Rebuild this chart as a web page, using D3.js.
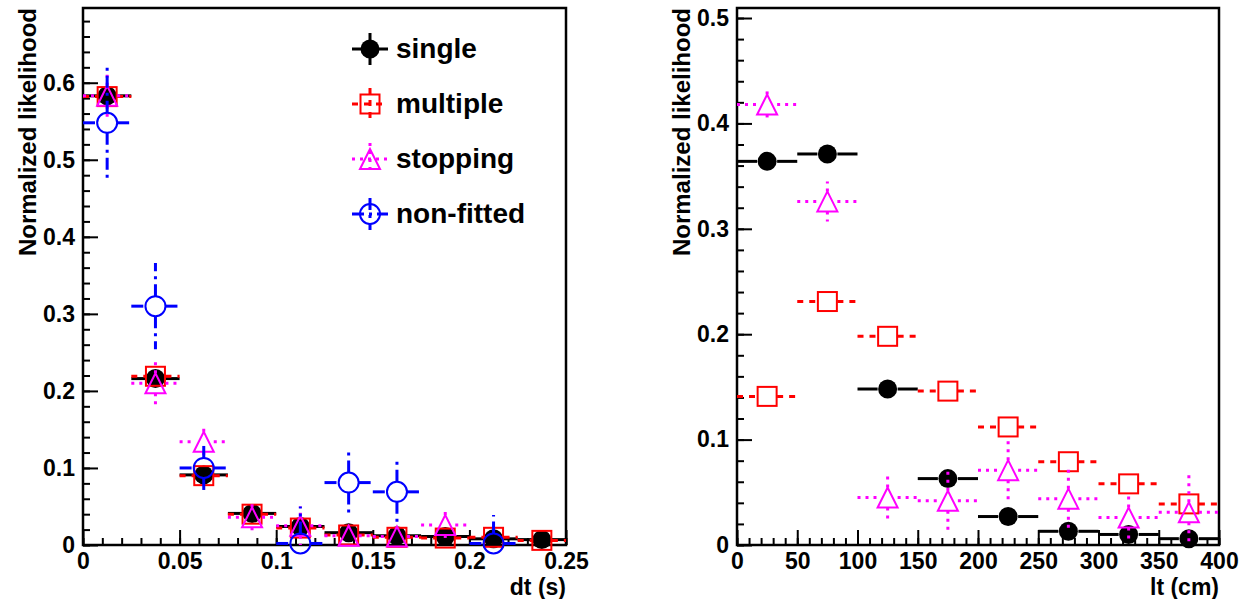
<!DOCTYPE html>
<html>
<head>
<meta charset="utf-8">
<script src="https://cdn.jsdelivr.net/npm/d3@7"></script>
<style>
  body { margin: 0; background: #fff; }
  text { font-family: "Liberation Sans", Arial, sans-serif; font-weight: bold; }
</style>
</head>
<body>
<svg width="1244" height="599"></svg>
<script>
// dt panel (left): 10 bins of 0.025 s
const dtCenters = [0.0125, 0.0375, 0.0625, 0.0875, 0.1125, 0.1375, 0.1625, 0.1875, 0.2125, 0.2375];
const dtBinWidth = 0.025;
const singleDt      = [0.583, 0.216, 0.091, 0.041, 0.024, 0.016, 0.012, 0.011, 0.008, 0.007];
const singleDtErr   = [0.012, 0.008, 0.005, 0.003, 0.003, 0.002, 0.002, 0.002, 0.002, 0.002];
const multipleDt    = [0.582, 0.219, 0.090, 0.040, 0.022, 0.013, 0.010, 0.009, 0.010, 0.006];
const multipleDtErr = [0.012, 0.008, 0.005, 0.004, 0.003, 0.002, 0.002, 0.002, 0.002, 0.002];
const stoppingDt    = [0.583, 0.210, 0.134, 0.036, 0.025, 0.012, 0.011, 0.026, null, null];
const stoppingDtErr = [0.033, 0.032, 0.023, 0.021, 0.025, 0.010, 0.012, 0.022, 0, 0];
const nonfitDt      = [0.548, 0.310, 0.100, null, 0.002, 0.081, 0.069, null, 0.002, null];
const nonfitDtErr   = [0.073, 0.056, 0.035, 0, 0.048, 0.039, 0.040, 0, 0.037, 0];

// lt panel (right): 8 bins of 50 cm
const ltCenters = [25, 75, 125, 175, 225, 275, 325, 375];
const ltBinWidth = 50;
const singleLt      = [0.364, 0.371, 0.148, 0.063, 0.027, 0.013, 0.010, 0.006];
const singleLtErr   = [0.006, 0.006, 0.004, 0.003, 0.002, 0.002, 0.002, 0.001];
const multipleLt    = [0.141, 0.231, 0.198, 0.146, 0.112, 0.079, 0.058, 0.039];
const multipleLtErr = [0.006, 0.007, 0.007, 0.006, 0.005, 0.005, 0.004, 0.004];
const stoppingLt    = [0.418, 0.326, 0.045, 0.042, 0.071, 0.044, 0.026, 0.031];
const stoppingLtErr = [0.015, 0.019, 0.024, 0.028, 0.031, 0.029, 0.024, 0.036];

const dtTicks = [0, 0.05, 0.1, 0.15, 0.2, 0.25];
const dtTickLabels = ["0", "0.05", "0.1", "0.15", "0.2", "0.25"];
const ltTicks = [0, 50, 100, 150, 200, 250, 300, 350, 400];
const likeTicksLeft = [0, 0.1, 0.2, 0.3, 0.4, 0.5, 0.6];
const likeTicksRight = [0, 0.1, 0.2, 0.3, 0.4, 0.5];

const legendNames = ["single", "multiple", "stopping", "non-fitted"];

const styles = {
  single:   { color: "#000000", dash: null,       marker: "dot" },
  multiple: { color: "#ff0000", dash: "6,6",      marker: "square" },
  stopping: { color: "#ff00ff", dash: "3,5",      marker: "triangle" },
  nonfit:   { color: "#0000ff", dash: "12,5,3,5", marker: "circle" }
};

const svg = d3.select("svg");

function drawMarker(g, kind, cx, cy, color) {
  if (kind === "dot") {
    g.append("circle").attr("cx", cx).attr("cy", cy).attr("r", 9.5).attr("fill", color);
  } else if (kind === "square") {
    g.append("rect").attr("x", cx - 9.5).attr("y", cy - 9.5).attr("width", 19).attr("height", 19)
      .attr("fill", "none").attr("stroke", color).attr("stroke-width", 2);
  } else if (kind === "triangle") {
    g.append("path").attr("d", `M${cx - 10},${cy + 10}L${cx + 10},${cy + 10}L${cx},${cy - 10}Z`)
      .attr("fill", "none").attr("stroke", color).attr("stroke-width", 2);
  } else {
    g.append("circle").attr("cx", cx).attr("cy", cy).attr("r", 10)
      .attr("fill", "none").attr("stroke", color).attr("stroke-width", 2);
  }
}

function drawSeries(g, x, y, centers, width, vals, errs, st) {
  const hw = 10;
  const s = g.append("g");
  centers.forEach((c, i) => {
    const v = vals[i];
    if (v === null) return;
    const cx = x(c), cy = y(v);
    const x0 = x(c - width / 2), x1 = x(c + width / 2);
    const line = (a, b, c2, d) => {
      const l = s.append("line").attr("x1", a).attr("y1", b).attr("x2", c2).attr("y2", d)
        .attr("stroke", st.color).attr("stroke-width", 3);
      if (st.dash) l.attr("stroke-dasharray", st.dash);
    };
    line(x0, cy, cx - hw, cy);
    line(cx + hw, cy, x1, cy);
    const yt = y(v + errs[i]), yb = y(Math.max(0, v - errs[i]));
    if (cy - yt > hw) line(cx, cy - hw, cx, yt);
    if (yb - cy > hw) line(cx, cy + hw, cx, yb);
    drawMarker(s, st.marker, cx, cy, st.color);
  });
}

function drawPanel(opt) {
  const g = svg.append("g");
  const x = d3.scaleLinear().domain(opt.xDomain).range([opt.left, opt.right]);
  const y = d3.scaleLinear().domain(opt.yDomain).range([545, 8]);

  // minor ticks
  g.append("g").attr("transform", "translate(0,545)")
    .call(d3.axisBottom(x).tickValues(opt.xMinor).tickSize(-7).tickSizeOuter(0).tickFormat(""));
  g.append("g").attr("transform", `translate(${opt.left},0)`)
    .call(d3.axisLeft(y).tickValues(opt.yMinor).tickSize(-7).tickSizeOuter(0).tickFormat(""));

  g.append("g").attr("transform", "translate(0,545)")
    .call(d3.axisBottom(x).tickValues(opt.xTicks).tickSize(-15).tickSizeOuter(0).tickPadding(8)
      .tickFormat((d, i) => opt.xLabels[i]));
  g.append("g").attr("transform", `translate(${opt.left},0)`)
    .call(d3.axisLeft(y).tickValues(opt.yTicks).tickSize(-15).tickSizeOuter(0).tickPadding(8)
      .tickFormat(d => d === 0 ? "0" : d3.format(".1f")(d)));

  g.selectAll(".tick line").attr("stroke", "#000").attr("stroke-width", 2);
  g.selectAll(".domain").remove();
  g.selectAll(".tick text").attr("font-size", 23).attr("fill", "#000");

  g.append("rect").attr("x", opt.left).attr("y", 8)
    .attr("width", opt.right - opt.left).attr("height", 537)
    .attr("fill", "none").attr("stroke", "#000").attr("stroke-width", 2.5);

  g.append("text").attr("x", opt.right).attr("y", 595).attr("text-anchor", "end")
    .attr("font-size", 23).text(opt.xTitle);
  g.append("text").attr("transform", `translate(${opt.left - 47},8) rotate(-90)`)
    .attr("text-anchor", "end").attr("font-size", 24).text("Normalized likelihood");

  opt.series.forEach(sr => drawSeries(g, x, y, opt.centers, opt.width, sr.vals, sr.errs, sr.style));
  return g;
}

function range(a, b, step) {
  const out = [];
  for (let v = a; v <= b + 1e-9; v += step) out.push(+v.toFixed(4));
  return out;
}

drawPanel({
  left: 83, right: 566,
  xDomain: [0, 0.25], yDomain: [0, 0.697],
  xTicks: dtTicks, xLabels: dtTickLabels, xMinor: range(0, 0.25, 0.01),
  yTicks: likeTicksLeft, yMinor: range(0, 0.68, 0.02),
  xTitle: "dt (s)",
  centers: dtCenters, width: dtBinWidth,
  series: [
    { vals: singleDt, errs: singleDtErr, style: styles.single },
    { vals: multipleDt, errs: multipleDtErr, style: styles.multiple },
    { vals: stoppingDt, errs: stoppingDtErr, style: styles.stopping },
    { vals: nonfitDt, errs: nonfitDtErr, style: styles.nonfit }
  ]
});

drawPanel({
  left: 737, right: 1219,
  xDomain: [0, 400], yDomain: [0, 0.5095],
  xTicks: ltTicks, xLabels: ltTicks.map(String), xMinor: range(0, 400, 10),
  yTicks: likeTicksRight, yMinor: range(0, 0.5, 0.02),
  xTitle: "lt (cm)",
  centers: ltCenters, width: ltBinWidth,
  series: [
    { vals: singleLt, errs: singleLtErr, style: styles.single },
    { vals: multipleLt, errs: multipleLtErr, style: styles.multiple },
    { vals: stoppingLt, errs: stoppingLtErr, style: styles.stopping }
  ]
});

// legend
const legendStyles = [styles.single, styles.multiple, styles.stopping, styles.nonfit];
const leg = svg.append("g");
legendNames.forEach((name, i) => {
  const st = legendStyles[i];
  const cx = 370, cy = 49 + i * 55;
  const l1 = leg.append("line").attr("x1", cx - 18).attr("x2", cx + 18).attr("y1", cy).attr("y2", cy);
  const l2 = leg.append("line").attr("x1", cx).attr("x2", cx).attr("y1", cy - 16).attr("y2", cy + 16);
  [l1, l2].forEach(l => {
    l.attr("stroke", st.color).attr("stroke-width", 3);
    if (st.dash) l.attr("stroke-dasharray", st.dash);
  });
  drawMarker(leg, st.marker, cx, cy, st.color);
  leg.append("text").attr("x", 396).attr("y", cy + 9).attr("font-size", 28).text(name);
});
</script>
</body>
</html>
